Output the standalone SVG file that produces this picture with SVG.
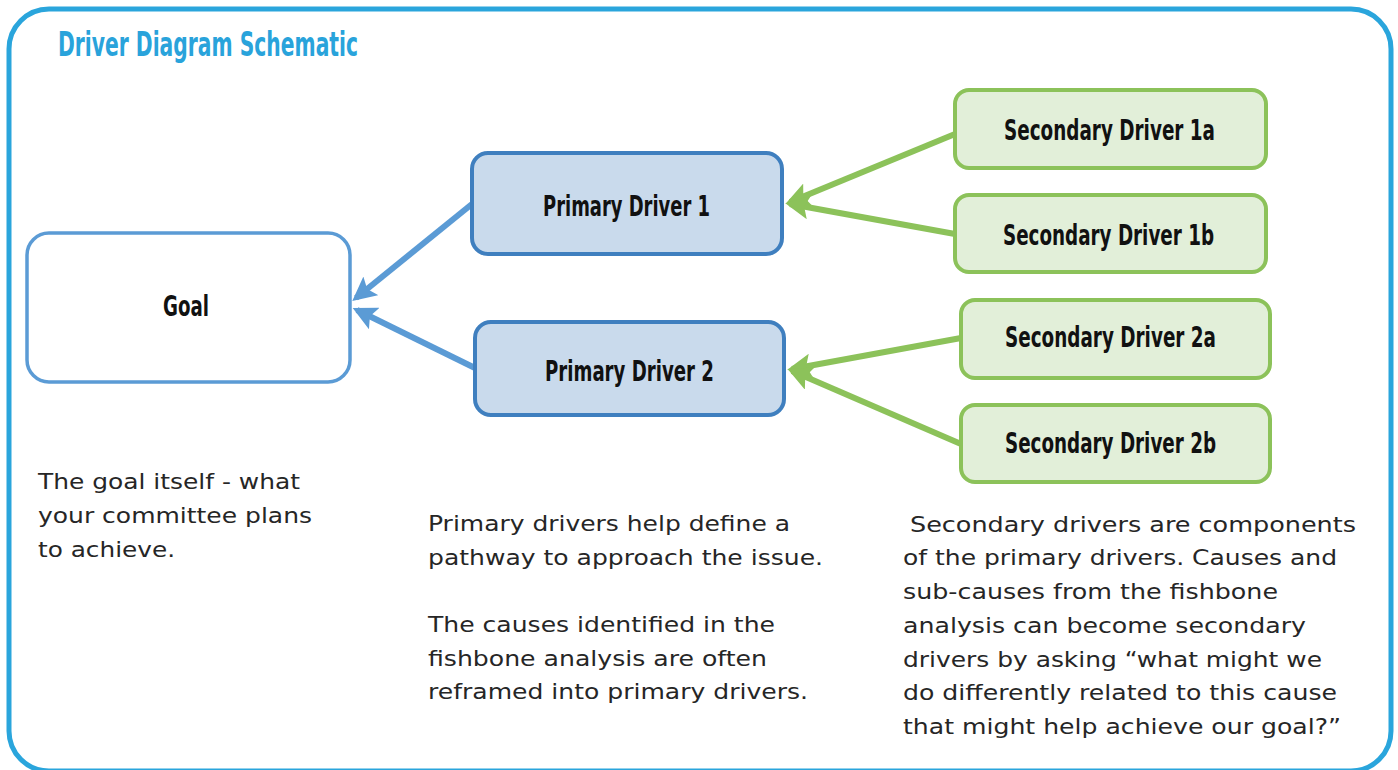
<svg xmlns="http://www.w3.org/2000/svg" width="1398" height="770" viewBox="0 0 1398 770">
<defs>
<style>
.lbl{font-family:"DejaVu Sans Condensed","Liberation Sans Narrow",sans-serif;font-weight:bold;font-size:29px;fill:#111}
.body{font-family:"DejaVu Sans","Open Sans",sans-serif;font-size:22px;fill:#262626}
.prim{fill:#C9DAEC;stroke:#3F7FBF;stroke-width:4}
.sec{fill:#E2EFD9;stroke:#8CC25A;stroke-width:4}
.blue{stroke:#5B9BD5;stroke-width:6;fill:none}
.green{stroke:#8CC25A;stroke-width:6;fill:none}
</style>
<marker id="ab" viewBox="0 0 10 10" refX="8" refY="5" markerWidth="4" markerHeight="4" orient="auto" markerUnits="strokeWidth"><path d="M0,0 L10,5 L0,10 L2,5 Z" fill="#5B9BD5"/></marker>
<marker id="ag" viewBox="0 0 10 10" refX="8" refY="5" markerWidth="4" markerHeight="4" orient="auto" markerUnits="strokeWidth"><path d="M0,0 L10,5 L0,10 L2,5 Z" fill="#8CC25A"/></marker>
</defs>
<rect width="1398" height="770" fill="#fff"/>
<rect x="9" y="9" width="1382" height="762" rx="40" fill="none" stroke="#2AA5DC" stroke-width="5"/>
<text x="58" y="56" font-family="DejaVu Sans Condensed,Liberation Sans Narrow,sans-serif" font-weight="bold" font-size="33" fill="#29A3DB" textLength="300" lengthAdjust="spacingAndGlyphs">Driver Diagram Schematic</text>
<g id="connectors">
<line class="blue" x1="472" y1="204" x2="356" y2="298" marker-end="url(#ab)"/>
<line class="blue" x1="475" y1="368" x2="357" y2="310" marker-end="url(#ab)"/>
<line class="green" x1="955" y1="134" x2="790" y2="202" marker-end="url(#ag)"/>
<line class="green" x1="955" y1="234" x2="790" y2="204" marker-end="url(#ag)"/>
<line class="green" x1="961" y1="338" x2="792" y2="369" marker-end="url(#ag)"/>
<line class="green" x1="961" y1="444" x2="792" y2="371" marker-end="url(#ag)"/>
</g>
<g id="goal">
<rect x="27" y="233" width="323" height="149" rx="22" fill="#fff" stroke="#5B9BD5" stroke-width="3.5"/>
<text class="lbl" x="163" y="316" textLength="46" lengthAdjust="spacingAndGlyphs">Goal</text>
</g>
<g id="primary1">
<rect class="prim" x="472" y="153" width="310" height="101" rx="16"/>
<text class="lbl" x="543" y="216" textLength="167" lengthAdjust="spacingAndGlyphs">Primary Driver 1</text>
</g>
<g id="primary2">
<rect class="prim" x="475" y="322" width="309" height="93" rx="16"/>
<text class="lbl" x="545" y="381" textLength="169" lengthAdjust="spacingAndGlyphs">Primary Driver 2</text>
</g>
<g id="sec1a">
<rect class="sec" x="955" y="90" width="311" height="78" rx="14"/>
<text class="lbl" x="1004" y="140" textLength="211" lengthAdjust="spacingAndGlyphs">Secondary Driver 1a</text>
</g>
<g id="sec1b">
<rect class="sec" x="955" y="195" width="311" height="77" rx="14"/>
<text class="lbl" x="1003" y="245" textLength="211" lengthAdjust="spacingAndGlyphs">Secondary Driver 1b</text>
</g>
<g id="sec2a">
<rect class="sec" x="961" y="300" width="309" height="78" rx="14"/>
<text class="lbl" x="1005" y="347" textLength="211" lengthAdjust="spacingAndGlyphs">Secondary Driver 2a</text>
</g>
<g id="sec2b">
<rect class="sec" x="961" y="405" width="309" height="77" rx="14"/>
<text class="lbl" x="1005" y="453" textLength="211" lengthAdjust="spacingAndGlyphs">Secondary Driver 2b</text>
</g>
<g id="notes">
<text class="body"><tspan x="38" y="489" textLength="262" lengthAdjust="spacingAndGlyphs">The goal itself - what</tspan></text>
<text class="body"><tspan x="38" y="523" textLength="274" lengthAdjust="spacingAndGlyphs">your committee plans</tspan></text>
<text class="body"><tspan x="38" y="557" textLength="137" lengthAdjust="spacingAndGlyphs">to achieve.</tspan></text>
<text class="body" x="428" y="531" textLength="362" lengthAdjust="spacingAndGlyphs">Primary drivers help define a</text>
<text class="body" x="428" y="565" textLength="395" lengthAdjust="spacingAndGlyphs">pathway to approach the issue.</text>
<text class="body" x="428" y="632" textLength="347" lengthAdjust="spacingAndGlyphs">The causes identified in the</text>
<text class="body" x="428" y="666" textLength="339" lengthAdjust="spacingAndGlyphs">fishbone analysis are often</text>
<text class="body" x="428" y="699" textLength="380" lengthAdjust="spacingAndGlyphs">reframed into primary drivers.</text>
<text class="body" x="910" y="532" textLength="446" lengthAdjust="spacingAndGlyphs">Secondary drivers are components</text>
<text class="body" x="903" y="565" textLength="434" lengthAdjust="spacingAndGlyphs">of the primary drivers. Causes and</text>
<text class="body" x="903" y="599" textLength="375" lengthAdjust="spacingAndGlyphs">sub-causes from the fishbone</text>
<text class="body" x="903" y="633" textLength="403" lengthAdjust="spacingAndGlyphs">analysis can become secondary</text>
<text class="body" x="903" y="667" textLength="419" lengthAdjust="spacingAndGlyphs">drivers by asking “what might we</text>
<text class="body" x="903" y="700" textLength="434" lengthAdjust="spacingAndGlyphs">do differently related to this cause</text>
<text class="body" x="903" y="734" textLength="438" lengthAdjust="spacingAndGlyphs">that might help achieve our goal?”</text>
</g>
</svg>
